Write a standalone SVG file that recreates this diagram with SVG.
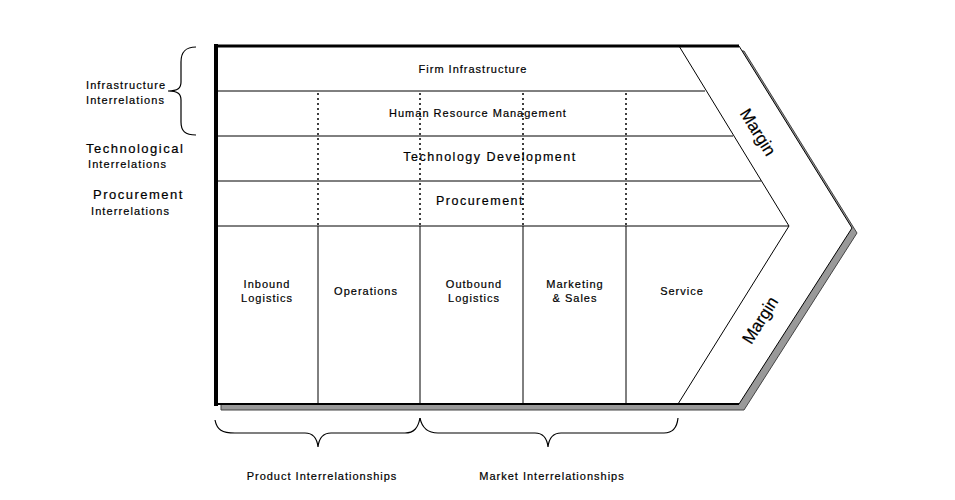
<svg xmlns="http://www.w3.org/2000/svg" width="955" height="500" viewBox="0 0 955 500">
<style>
text{font-family:"Liberation Sans",Arial,sans-serif;fill:#000;stroke:#000;stroke-width:0.2px;}
.t{font-size:11px;text-anchor:middle;letter-spacing:1px;}
.b{font-size:12.5px;letter-spacing:1.5px;}
.l{font-size:11px;letter-spacing:1.1px;}
.lb{font-size:13px;letter-spacing:1.5px;}
.m{font-size:17px;text-anchor:middle;stroke-width:0.2px;}
.ln{stroke:#000;stroke-width:1;fill:none;}
.dot{stroke:#000;stroke-width:1.5;stroke-dasharray:2,3;fill:none;}
.br{stroke:#000;stroke-width:1.2;fill:none;}
</style>
<rect width="955" height="500" fill="#fff"/>
<g id="chain">
<polygon points="221,51 744,51 857,233 744,410 221,410" fill="#999" stroke="#444" stroke-width="1"/>
<polygon points="216,46 739,46 852,228 739,404 216,404" fill="#fff" stroke="#000" stroke-width="1"/>
<line x1="216" y1="46" x2="739" y2="46" stroke="#000" stroke-width="3"/>
<line x1="216" y1="44" x2="216" y2="406" stroke="#000" stroke-width="4"/>
<line x1="216" y1="404" x2="739" y2="404" stroke="#000" stroke-width="2"/>
</g>
<g id="connectors">
<polyline class="ln" points="679,46 789,226 678,404"/>
<line class="ln" x1="216" y1="91" x2="705" y2="91"/>
<line class="ln" x1="216" y1="136" x2="733" y2="136"/>
<line class="ln" x1="216" y1="181" x2="761" y2="181"/>
<line class="ln" x1="216" y1="226" x2="789" y2="226"/>
<line class="dot" x1="318" y1="93" x2="318" y2="226"/>
<line class="dot" x1="420" y1="93" x2="420" y2="226"/>
<line class="dot" x1="523" y1="93" x2="523" y2="226"/>
<line class="dot" x1="626" y1="93" x2="626" y2="226"/>
<line class="ln" x1="318" y1="226" x2="318" y2="404"/>
<line class="ln" x1="420" y1="226" x2="420" y2="404"/>
<line class="ln" x1="523" y1="226" x2="523" y2="404"/>
<line class="ln" x1="626" y1="226" x2="626" y2="404"/>
<path class="br" d="M196,47 C185,47 181,52 181,62 L181,82 C181,88 178,91 168,91 C178,91 181,94 181,100 L181,122 C181,131 185,135 196,135"/>
<path class="br" d="M215,420 C217,430 222,433 235,433 L305,433 C313,433 317,438 318,447 C319,438 323,433 331,433 L405,433 C414,433 418,428 420,418"/>
<path class="br" d="M420,418 C422,428 428,433 438,433 L535,433 C543,433 547,438 548,447 C549,438 553,433 561,433 L664,433 C673,433 677,428 678,418"/>
</g>
<g id="firm"><text class="t" x="473" y="73">Firm Infrastructure</text></g>
<g id="hrm"><text class="t" x="478" y="117">Human Resource Management</text></g>
<g id="tech"><text class="t b" x="490" y="161">Technology Development</text></g>
<g id="proc"><text class="t b" x="480" y="205">Procurement</text></g>
<g id="inbound"><text class="t" x="267" y="288">Inbound</text><text class="t" x="267" y="302">Logistics</text></g>
<g id="operations"><text class="t" x="366" y="295">Operations</text></g>
<g id="outbound"><text class="t" x="474" y="288">Outbound</text><text class="t" x="474" y="302">Logistics</text></g>
<g id="marketing"><text class="t" x="575" y="288">Marketing</text><text class="t" x="575" y="302">&amp; Sales</text></g>
<g id="service"><text class="t" x="682" y="295">Service</text></g>
<g id="margin-top"><text class="m" transform="translate(758,132) rotate(58)" y="6">Margin</text></g>
<g id="margin-bottom"><text class="m" transform="translate(760,320) rotate(-58)" y="6">Margin</text></g>
<g id="infra"><text class="l" x="86" y="89">Infrastructure</text><text class="l" x="86" y="104">Interrelations</text></g>
<g id="techrel"><text class="lb" x="86" y="153">Technological</text><text class="l" x="88" y="168">Interrelations</text></g>
<g id="procrel"><text class="lb" x="93" y="199">Procurement</text><text class="l" x="91" y="215">Interrelations</text></g>
<g id="product"><text class="t" x="322" y="480">Product Interrelationships</text></g>
<g id="market"><text class="t" x="552" y="480">Market Interrelationships</text></g>
</svg>
